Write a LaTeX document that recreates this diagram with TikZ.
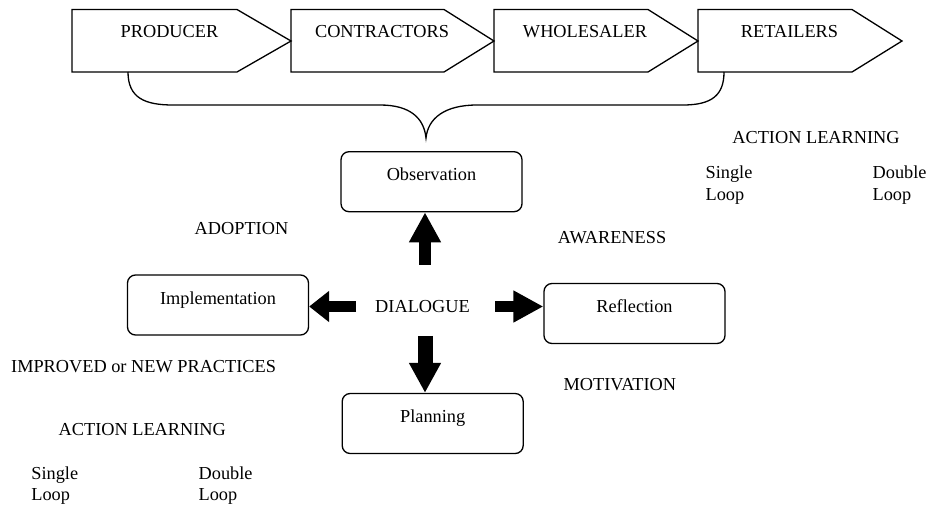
\documentclass[tikz,border=0pt]{standalone}
\usepackage{fontspec}
\setmainfont{Liberation Serif}
\usetikzlibrary{positioning}
\usetikzlibrary{arrows.meta}

\tikzset{
 stage/.style={draw, rounded corners=4pt, minimum width=90.5pt, minimum height=30pt,
   text height=6pt, text depth=7pt, inner sep=0pt},
 lbl/.style={inner sep=0pt},
 blockarrow/.style={line width=6pt, -{Triangle[length=15pt,width=15pt]}},
}

\begin{document}
\begin{tikzpicture}[x=0.5pt,y=-0.5pt,line width=0.65pt,font=\fontsize{9.15}{11}\selectfont]
 \useasboundingbox (0,0) rectangle (927,504);
 % supply chain
 \draw (72,9.5)--(237,9.5)--(291,41)--(237,72)--(72,72)--cycle;
 \draw (291,9.5)--(444,9.5)--(494,41)--(444,72)--(291,72)--cycle;
 \draw (494,9.5)--(648,9.5)--(698,41)--(648,72)--(494,72)--cycle;
 \draw (698,9.5)--(852,9.5)--(902,41)--(852,72)--(698,72)--cycle;
 \node[lbl,anchor=base] (prod) at (169.5,37.3) {PRODUCER};
 \node[lbl,anchor=base] (cont) at (382,37.3) {CONTRACTORS};
 \node[lbl,anchor=base] (whol) at (585,37.3) {WHOLESALER};
 \node[lbl,anchor=base] (reta) at (789.5,37.3) {RETAILERS};
 % brace
 \draw (128,72) .. controls (128,98) and (145,105) .. (173,105) -- (380,105)
   .. controls (410,105) and (424,118) .. (426,138)
   .. controls (428,118) and (445,105) .. (477,105) -- (683,105)
   .. controls (712,105) and (724,95) .. (724,72);
 % cycle
 \node[stage] (obs) at (431.5,181.7) {Observation};
 \node[stage] (imp) at (218,305) {Implementation};
 \node[stage] (rfl) at (634.5,313.5) {Reflection};
 \node[stage] (pln) at (432.7,423.5) {Planning};
 \node[lbl] (dlg) at (422.5,306.5) {DIALOGUE};
 \draw[blockarrow] ([xshift=1.25pt,yshift=17.5pt]dlg.north) -- ([xshift=1.25pt]dlg.north |- obs.south);
 \draw[blockarrow,line width=7.5pt] ([xshift=1.25pt,yshift=-11.25pt]dlg.south) -- ([xshift=1.25pt]dlg.south |- pln.north);
 \draw[blockarrow,line width=5.5pt,-{Triangle[length=10pt,width=15pt]}] ([xshift=-9.25pt]dlg.west) -- (dlg.west -| imp.east);
 \draw[blockarrow,line width=5.5pt] ([xshift=12.5pt]dlg.east) -- (dlg.east -| rfl.west);
 % labels
 \node[lbl,anchor=base] (adop) at (241.5,234) {ADOPTION};
 \node[lbl,anchor=base] (awar) at (612,243) {AWARENESS};
 \node[lbl,anchor=base east] (impr) at (276.7,372) {IMPROVED or NEW PRACTICES};
 \node[lbl,anchor=base west] (moti) at (563,390.6) {MOTIVATION};
 % action learning, right
 \node[lbl,anchor=base] (alr) at (816,143.3) {ACTION LEARNING};
 \node[lbl,anchor=base west] (sgr) at (705,178) {Single};
 \node[lbl,anchor=base west] (lsr) at (705,200) {Loop};
 \node[lbl,anchor=base west] (dbr) at (872,178) {Double};
 \node[lbl,anchor=base west] (ldr) at (872,200) {Loop};
 % action learning, left
 \node[lbl,anchor=base west] (all) at (58,435) {ACTION LEARNING};
 \node[lbl,anchor=base west] (sgl) at (30.7,479) {Single};
 \node[lbl,anchor=base west] (lsl) at (30.7,500) {Loop};
 \node[lbl,anchor=base west] (dbl) at (198,479) {Double};
 \node[lbl,anchor=base west] (ldl) at (198,500) {Loop};
\end{tikzpicture}
\end{document}
